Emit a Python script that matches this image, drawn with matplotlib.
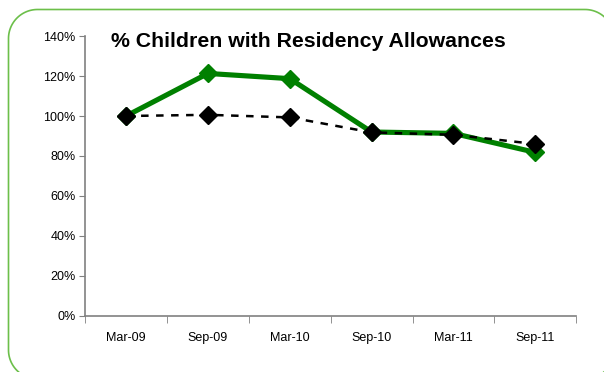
import matplotlib
matplotlib.use("Agg")
import matplotlib.pyplot as plt
from matplotlib.patches import PathPatch
from matplotlib.path import Path
from matplotlib.ticker import FixedLocator, FuncFormatter
import numpy as np

plt.rcParams['font.family'] = ['Liberation Sans', 'DejaVu Sans']

categories = ["Mar-09", "Sep-09", "Mar-10", "Sep-10", "Mar-11", "Sep-11"]
green_values = [100, 121.3, 118.7, 92.0, 91.3, 81.8]
black_values = [100, 100.6, 99.3, 91.8, 90.6, 86.0]
title = "% Children with Residency Allowances"

W, H = 604, 372
fig = plt.figure(figsize=(W / 100, H / 100), dpi=100)


def rounded_rect(x0, y0, x1, y1, r, n=30):
    # pixel coords, y downwards from top
    pts = []
    corners = [(x1 - r, y0 + r, -90, 0), (x1 - r, y1 - r, 0, 90),
               (x0 + r, y1 - r, 90, 180), (x0 + r, y0 + r, 180, 270)]
    for cx, cy, a0, a1 in corners:
        t = np.radians(np.linspace(a0, a1, n))
        pts += list(zip(cx + r * np.cos(t), cy + r * np.sin(t)))
    pts.append(pts[0])
    pts = np.array(pts)
    pts[:, 0] /= W
    pts[:, 1] = 1 - pts[:, 1] / H
    return Path(pts)


border = PathPatch(rounded_rect(8.5, 9.5, 614, 379, 29), transform=fig.transFigure,
                   facecolor="none", edgecolor="#6cbf4a", linewidth=1.2, zorder=0)
fig.patches.append(border)

ax = fig.add_axes([0.141, 0.151, 0.813, 0.752])
x = np.arange(len(categories))
ax.plot(x, green_values, color="#008000", lw=3.7, marker="D", markersize=9,
        markerfacecolor="#008000", markeredgecolor="#008000", zorder=3)
ax.plot(x, black_values, color="black", lw=1.8, ls=(0, (3, 3)), marker="D", markersize=9,
        markerfacecolor="black", markeredgecolor="black", zorder=4)

ax.set_xlim(-0.5, len(categories) - 0.5)
ax.set_ylim(0, 140)
ax.set_yticks(np.arange(0, 141, 20))
ax.yaxis.set_major_formatter(FuncFormatter(lambda v, p: f"{int(v)}%"))
ax.set_xticks(x)
ax.set_xticklabels(categories)
ax.xaxis.set_minor_locator(FixedLocator(np.arange(-0.5, len(categories), 1.0)))
ax.tick_params(axis='x', which='major', length=0, pad=12, labelsize=9)
ax.tick_params(axis='x', which='minor', length=5, color="#808080", direction='out')
ax.tick_params(axis='y', length=4, color="#808080", direction='out', labelsize=9, pad=3)
for s in ['top', 'right']:
    ax.spines[s].set_visible(False)
for s in ['left', 'bottom']:
    ax.spines[s].set_color("#808080")
    ax.spines[s].set_linewidth(1.2)
ax.set_facecolor("none")

ax.text(0.052, 1.015, title, transform=ax.transAxes, fontsize=15.3, fontweight='bold',
        ha='left', va='top')

fig.savefig("out.png", dpi=100)
